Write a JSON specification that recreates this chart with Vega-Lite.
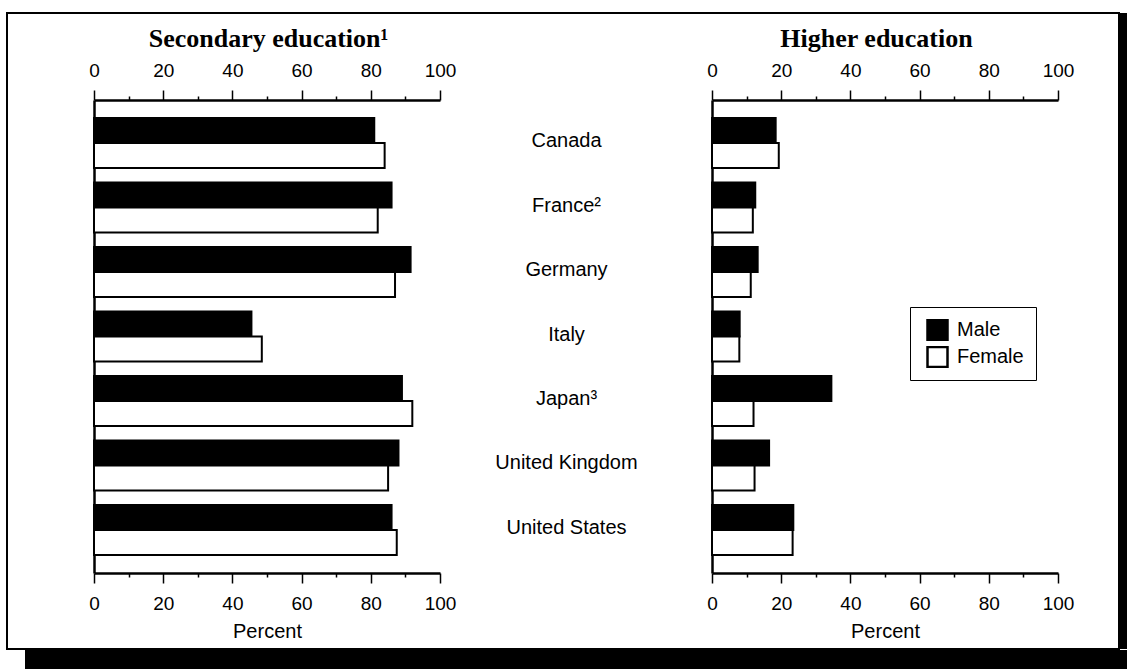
{
  "$schema": "https://vega.github.io/schema/vega-lite/v6.json",
  "padding": {"left": 6, "top": 12, "right": 10, "bottom": 0},
  "background": "white",
  "spacing": 0,
  "datasets": {
    "edu": [
      {"country": "Canada", "sex": "Male", "secondary": 81, "higher": 18.4},
      {"country": "Canada", "sex": "Female", "secondary": 84, "higher": 19.3},
      {"country": "France²", "sex": "Male", "secondary": 86, "higher": 12.5},
      {"country": "France²", "sex": "Female", "secondary": 82, "higher": 11.8},
      {"country": "Germany", "sex": "Male", "secondary": 91.5, "higher": 13.2},
      {"country": "Germany", "sex": "Female", "secondary": 87, "higher": 11.2},
      {"country": "Italy", "sex": "Male", "secondary": 45.5, "higher": 8},
      {"country": "Italy", "sex": "Female", "secondary": 48.5, "higher": 7.9},
      {"country": "Japan³", "sex": "Male", "secondary": 89, "higher": 34.5},
      {"country": "Japan³", "sex": "Female", "secondary": 92, "higher": 12},
      {"country": "United Kingdom", "sex": "Male", "secondary": 88, "higher": 16.5},
      {"country": "United Kingdom", "sex": "Female", "secondary": 85, "higher": 12.3},
      {"country": "United States", "sex": "Male", "secondary": 86, "higher": 23.5},
      {"country": "United States", "sex": "Female", "secondary": 87.5, "higher": 23.3}
    ]
  },
  "vconcat": [
    {
      "spacing": 0,
      "bounds": "flush",
      "hconcat": [
        {
          "width": 1112,
          "height": 636,
          "view": {"fill": "white", "stroke": "black", "strokeWidth": 2},
          "data": {"name": "edu"},
          "layer": [
            {
              "mark": {"type": "bar", "stroke": "black", "strokeWidth": 2},
              "encoding": {
                "y": {"field": "country", "type": "nominal", "sort": null,
                  "scale": {"range": [87, 560], "paddingInner": 0.225, "paddingOuter": 0.28},
                  "axis": {"orient": "left", "offset": -87, "labels": false, "ticks": false, "title": null}},
                "yOffset": {"field": "sex", "type": "nominal", "sort": ["Male", "Female"], "scale": {"paddingInner": 0, "paddingOuter": 0}},
                "x": {"field": "secondary", "type": "quantitative",
                  "scale": {"domain": [0, 100], "range": [87, 433], "nice": false},
                  "axis": {"orient": "bottom", "offset": -76, "values": [0, 10, 20, 30, 40, 50, 60, 70, 80, 90, 100],
                    "labelExpr": "datum.value % 20 === 0 ? datum.label : ''",
                    "tickSize": {"condition": {"test": "datum.value % 20 === 0", "value": 10}, "value": 4},
                    "labelPadding": 11, "title": "Percent", "titlePadding": 8}},
                "color": {"field": "sex", "type": "nominal",
                  "scale": {"domain": ["Male", "Female"], "range": ["black", "white"]},
                  "legend": {"title": null, "orient": "none", "legendX": 903, "legendY": 294,
                    "symbolType": "square", "symbolSize": 400, "symbolStrokeColor": "black", "symbolStrokeWidth": 2.5,
                    "symbolOffset": 4, "clipHeight": 22,
                    "labelFont": "Liberation Sans", "labelFontSize": 20, "labelColor": "black", "labelOffset": 8,
                    "strokeColor": "black", "fillColor": "white", "padding": 12, "rowPadding": 5}}
              }
            },
            {
              "mark": {"type": "bar", "opacity": 0},
              "encoding": {
                "y": {"field": "country", "type": "nominal", "sort": null,
                  "scale": {"range": [87, 560], "paddingInner": 0.225, "paddingOuter": 0.28}, "axis": null},
                "yOffset": {"field": "sex", "type": "nominal", "sort": ["Male", "Female"]},
                "x": {"field": "secondary", "type": "quantitative",
                  "scale": {"domain": [0, 100], "range": [87, 433], "nice": false},
                  "axis": {"orient": "top", "offset": -87, "values": [0, 10, 20, 30, 40, 50, 60, 70, 80, 90, 100],
                    "labelExpr": "datum.value % 20 === 0 ? datum.label : ''",
                    "tickSize": {"condition": {"test": "datum.value % 20 === 0", "value": 10}, "value": 4},
                    "labelPadding": 10, "title": "Secondary education¹", "titleFont": "Liberation Serif",
                    "titleFontSize": 26, "titleFontWeight": "bold", "titlePadding": 10, "titleX": 261}}
              }
            },
            {
              "mark": {"type": "bar", "stroke": "black", "strokeWidth": 2},
              "encoding": {
                "y": {"field": "country", "type": "nominal", "sort": null,
                  "scale": {"range": [87, 560], "paddingInner": 0.225, "paddingOuter": 0.28},
                  "axis": {"orient": "left", "offset": -705, "ticks": false, "tickSize": 0, "title": null,
                    "labelAlign": "center", "labelBaseline": "middle", "labelPadding": 146, "labelFontSize": 20, "labelOffset": -2}},
                "yOffset": {"field": "sex", "type": "nominal", "sort": ["Male", "Female"], "scale": {"paddingInner": 0, "paddingOuter": 0}},
                "x": {"field": "higher", "type": "quantitative",
                  "scale": {"domain": [0, 100], "range": [705, 1051], "nice": false},
                  "axis": {"orient": "bottom", "offset": -76, "values": [0, 10, 20, 30, 40, 50, 60, 70, 80, 90, 100],
                    "labelExpr": "datum.value % 20 === 0 ? datum.label : ''",
                    "tickSize": {"condition": {"test": "datum.value % 20 === 0", "value": 10}, "value": 4},
                    "labelPadding": 11, "title": "Percent", "titlePadding": 8}},
                "color": {"field": "sex", "type": "nominal",
                  "scale": {"domain": ["Male", "Female"], "range": ["black", "white"]}}
              }
            },
            {
              "mark": {"type": "bar", "opacity": 0},
              "encoding": {
                "y": {"field": "country", "type": "nominal", "sort": null,
                  "scale": {"range": [87, 560], "paddingInner": 0.225, "paddingOuter": 0.28}, "axis": null},
                "yOffset": {"field": "sex", "type": "nominal", "sort": ["Male", "Female"]},
                "x": {"field": "higher", "type": "quantitative",
                  "scale": {"domain": [0, 100], "range": [705, 1051], "nice": false},
                  "axis": {"orient": "top", "offset": -87, "values": [0, 10, 20, 30, 40, 50, 60, 70, 80, 90, 100],
                    "labelExpr": "datum.value % 20 === 0 ? datum.label : ''",
                    "tickSize": {"condition": {"test": "datum.value % 20 === 0", "value": 10}, "value": 4},
                    "labelPadding": 10, "title": "Higher education", "titleFont": "Liberation Serif",
                    "titleFontSize": 26, "titleFontWeight": "bold", "titlePadding": 10, "titleX": 869}}
              }
            }
          ],
          "resolve": {
            "scale": {"x": "independent", "y": "independent", "yOffset": "independent"},
            "axis": {"x": "independent", "y": "independent"}
          }
        },
        {
          "width": 9,
          "height": 636,
          "view": {"fill": "black", "stroke": null},
          "data": {"values": []},
          "mark": "rect",
          "encoding": {}
        }
      ]
    },
    {
      "spacing": 0,
      "bounds": "flush",
      "hconcat": [
        {
          "width": 18,
          "height": 21,
          "view": {"fill": null, "stroke": null},
          "data": {"values": []},
          "mark": "rect",
          "encoding": {}
        },
        {
          "width": 1103,
          "height": 21,
          "view": {"fill": "black", "stroke": null},
          "data": {"values": []},
          "mark": "rect",
          "encoding": {}
        }
      ]
    }
  ],
  "config": {
    "view": {"stroke": null},
    "font": "Liberation Sans",
    "axis": {
      "domainColor": "black", "domainWidth": 2.5, "tickColor": "black", "tickWidth": 1.5,
      "labelColor": "black", "labelFont": "Liberation Sans", "labelFontSize": 19,
      "titleColor": "black", "titleFont": "Liberation Sans", "titleFontSize": 20, "titleFontWeight": "normal",
      "grid": false, "labelFlush": false, "labelOverlap": false
    }
  }
}
